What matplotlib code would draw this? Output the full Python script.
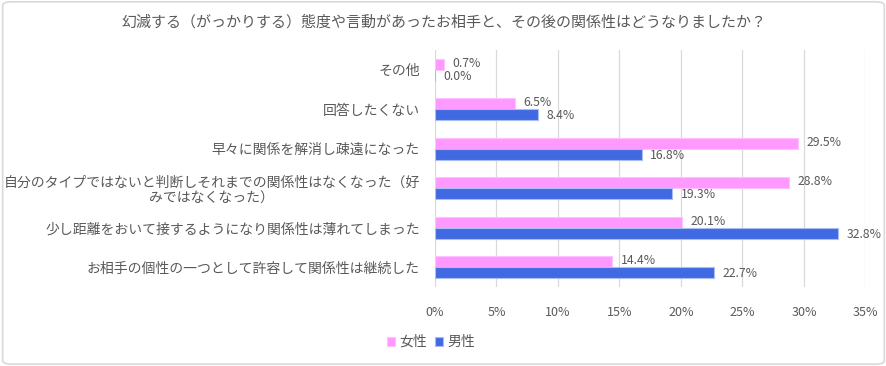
import matplotlib
matplotlib.use("Agg")
import matplotlib.pyplot as plt
from matplotlib.patches import FancyBboxPatch
from matplotlib.ticker import FuncFormatter

plt.rcParams['font.family'] = ['Noto Sans CJK JP', 'DejaVu Sans']

title = "幻滅する（がっかりする）態度や言動があったお相手と、その後の関係性はどうなりましたか？"
categories = [
    "その他",
    "回答したくない",
    "早々に関係を解消し疎遠になった",
    "自分のタイプではないと判断しそれまでの関係性はなくなった（好\nみではなくなった）",
    "少し距離をおいて接するようになり関係性は薄れてしまった",
    "お相手の個性の一つとして許容して関係性は継続した",
]
female = [0.7, 6.5, 29.5, 28.8, 20.1, 14.4]
male = [0.0, 8.4, 16.8, 19.3, 32.8, 22.7]
series_names = ["女性", "男性"]
colors = ["#FF99FF", "#4169E1"]
edge_colors = ["#FFC2FF", "#A9BDF5"]
text_color = "#595959"

fig = plt.figure(figsize=(8.87, 3.66), dpi=100)
# outer frame
fig.patches.append(FancyBboxPatch((0.003, 0.005), 0.994, 0.99, boxstyle="round,pad=0,rounding_size=0.01",
                                  transform=fig.transFigure, fill=False, edgecolor="#D9D9D9", linewidth=1.2))

ax = fig.add_axes([435/887, 1-287/366, (865.5-435)/887, (287-50)/366])

n = len(categories)
ypos = list(range(n))
h = 0.28
ax.barh([y - h/2 for y in ypos], female, height=h, color=colors[0], edgecolor=edge_colors[0], linewidth=0.8, label=series_names[0])
ax.barh([y + h/2 for y in ypos], male, height=h, color=colors[1], edgecolor=edge_colors[1], linewidth=0.8, label=series_names[1])

for y, v in zip(ypos, female):
    ax.annotate(f"{v:.1f}%", (v, y - h/2), xytext=(6, 0.8), textcoords="offset points",
                va="center", ha="left", fontsize=8.8, color=text_color)
for y, v in zip(ypos, male):
    ax.annotate(f"{v:.1f}%", (v, y + h/2), xytext=(6, -0.8), textcoords="offset points",
                va="center", ha="left", fontsize=8.8, color=text_color)

ax.set_xlim(0, 35)
ax.set_ylim(n - 0.5, -0.5)
ax.set_xticks(range(0, 36, 5))
ax.xaxis.set_major_formatter(FuncFormatter(lambda x, p: f"{x:.0f}%"))
ax.set_yticks(ypos)
ax.set_yticklabels(categories, multialignment="center")
ax.tick_params(axis="both", length=0, labelsize=9, colors=text_color)
ax.tick_params(axis="y", pad=11, labelsize=10)
ax.tick_params(axis="x", pad=14)
ax.grid(axis="x", color="#D9D9D9", linewidth=0.9)
ax.set_axisbelow(True)
for s in ax.spines.values():
    s.set_visible(False)

fig.text(0.5, 1-22/366, title, ha="center", va="center", fontsize=10.8, color=text_color)

leg = fig.legend(loc="center", bbox_to_anchor=(431/887, 1-342/366), ncol=2, frameon=False,
                 fontsize=10, handlelength=0.6, handleheight=0.6, handletextpad=0.3, columnspacing=0.6)
for t in leg.get_texts():
    t.set_color(text_color)

fig.savefig("out.png", dpi=100)
